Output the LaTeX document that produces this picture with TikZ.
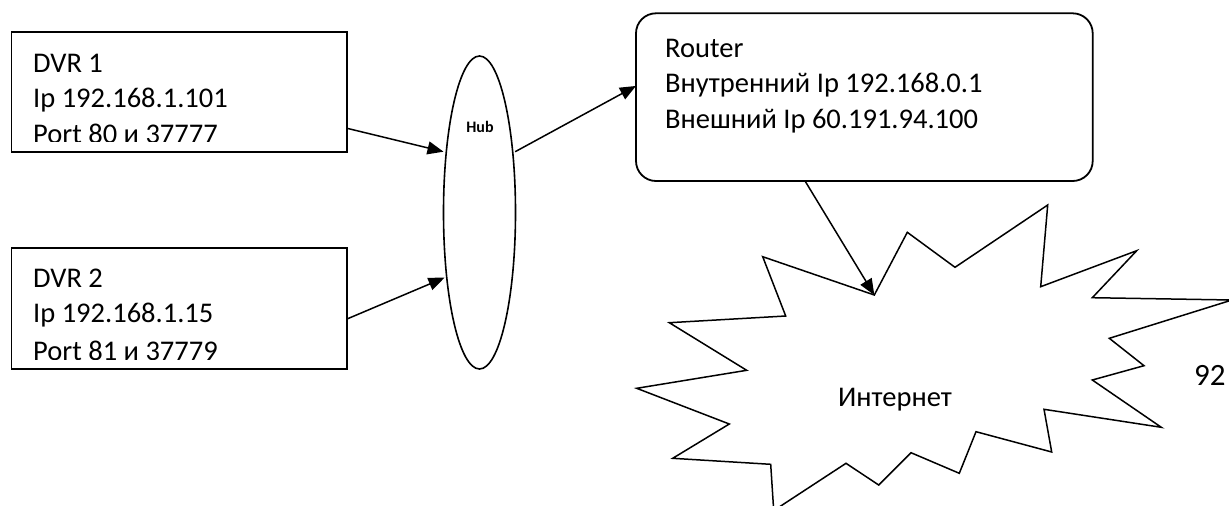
\documentclass[tikz,border=0pt]{standalone}
\usepackage{fontspec}
\setmainfont{Carlito}
\usetikzlibrary{shapes.geometric,arrows.meta,calc}
\begin{document}
\begin{tikzpicture}[x=1pt,y=-1pt,
  txt/.style={anchor=base west, inner sep=0pt, font=\fontsize{28.5}{35.5}\selectfont},
  boxline/.style={draw, line width=1.8pt, rectangle, inner sep=0pt, outer sep=0pt, anchor=north west},
  link/.style={line width=1.5pt, -{Triangle[length=16pt,width=13pt]}},
]
\fill[white] (0,0) rectangle (1229,506);
\useasboundingbox (0,0) rectangle (1229,506);

% DVR boxes
\node[boxline, minimum width=335.6pt, minimum height=120pt] (dvr1) at (11.4,32.3) {};
\node[boxline, minimum width=335.6pt, minimum height=120.7pt] (dvr2) at (11.4,248.3) {};
\begin{scope}
  \clip (11.4,32.3) rectangle (347,141.7);
  \node[txt] (d1a) at (33,72.3) {DVR 1};
  \node[txt] (d1b) at (33,107.8) {Ip 192.168.1.101};
  \node[txt] (d1c) at (33,143.6) {Port 80 и 37777};
\end{scope}
\begin{scope}
  \clip (11.4,248.3) rectangle (347,359.3);
  \node[txt] (d2a) at (33,287.2) {DVR 2};
  \node[txt] (d2b) at (33,322.7) {Ip 192.168.1.15};
  \node[txt] (d2c) at (33,360.6) {Port 81 и 37779};
\end{scope}

% Hub
\node[draw, ellipse, line width=1.6pt, minimum width=72pt, minimum height=313pt, inner sep=0pt, outer sep=0pt] (hub) at (479.5,212.5) {};
\node[anchor=base, inner sep=0pt, font=\bfseries\fontsize{16}{19}\selectfont] (hublbl) at (480,132.7) {Hub};

% Router
\node[boxline, rounded corners=20pt, minimum width=456.7pt, minimum height=167.7pt] (router) at (636,13.3) {};
\node[txt] (r1) at (665,57) {Router};
\node[txt] (r2) at (665,92.7) {Внутренний Ip 192.168.0.1};
\node[txt] (r3) at (665,128.3) {Внешний Ip 60.191.94.100};

% Internet star
\draw[line width=1.5pt, line join=miter] (762.7,256.7) -- (874.3,295) coordinate (netin) -- (907.3,232.3) -- (955,267.3) -- (1047.7,205) -- (1040.7,286.7) -- (1136.7,250.7) -- (1092.3,297.7) -- (1232,300) -- (1109.3,338.3) -- (1144,365.7) -- (1092.3,380) -- (1161.3,427.3) -- (1044,409.3) -- (1051.7,452) -- (976,431.7) -- (959.3,473.3) -- (911,452.7) -- (878.7,485) -- (846,463.3) -- (773.7,510.6) -- (770.7,464.3) -- (672.7,458.3) -- (729.3,424) -- (636.7,388.3) -- (746.7,370.3) -- (669.3,322.7) -- (785.7,316) -- cycle;
\node[txt, anchor=base] (inet) at (895,406.7) {Интернет};
\node[anchor=base west, inner sep=0pt, font=\fontsize{31}{37}\selectfont] (pnum) at (1194,385) {92};

% Connectors
\draw[link] ($(dvr1.south east)+(0,-24)$) -- ($(hub.center)+(-36,-60.8)$);
\draw[link] ($(dvr2.south east)+(0,-50)$) -- ($(hub.center)+(-35,65.2)$);
\draw[link] ($(hub.center)+(35.7,-60.8)$) -- ($(router.west)+(0,-11.2)$);
\draw[link] ($(router.south)+(-59.3,0)$) -- (netin);
\end{tikzpicture}
\end{document}
